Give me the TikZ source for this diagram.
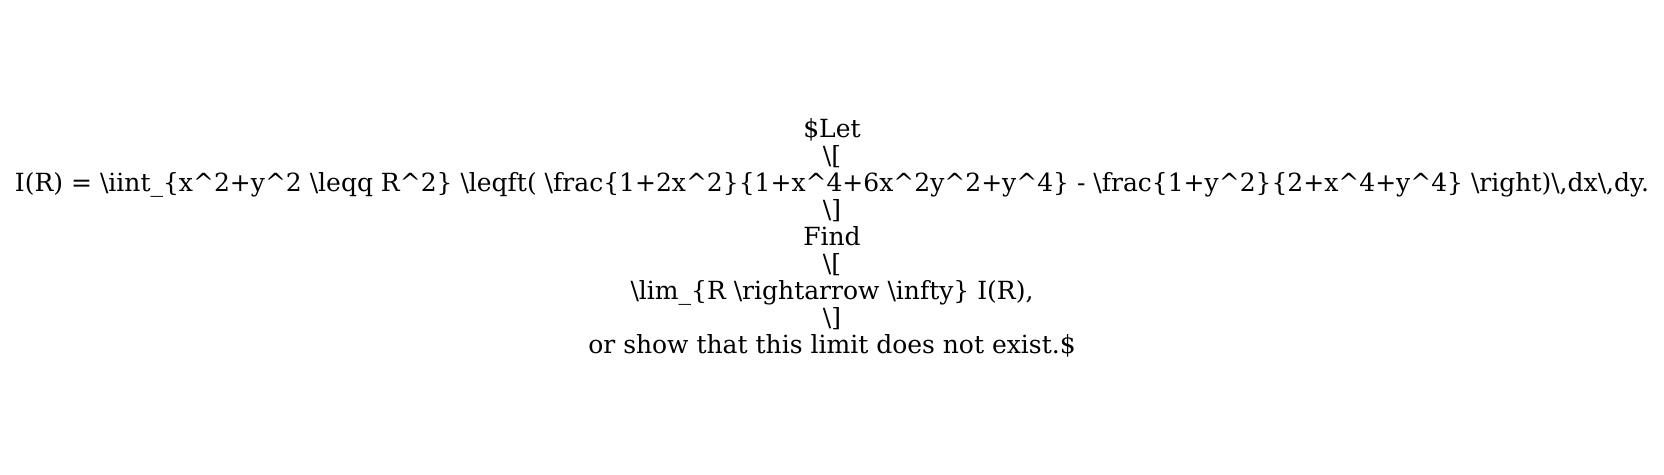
\documentclass[tikz,border=0pt]{standalone}
\usepackage{fontspec}
\setmainfont{DejaVu Serif}
\newcommand{\bs}{\textbackslash}
\newcommand{\crt}{\textasciicircum}
\begin{document}
\begin{tikzpicture}[x=1bp,y=1bp,
  txt/.style={align=center,inner sep=0pt,font=\fontsize{25bp}{27bp}\selectfont}]
\useasboundingbox (0,0) rectangle (1664,475);
\node[txt] (t) at (832,237.5) {\$Let\\
\bs[\\
I(R) = \bs iint\_\{x\crt 2+y\crt 2 \bs leqq R\crt 2\} \bs leqft( \bs frac\{1+2x\crt 2\}\{1+x\crt 4+6x\crt 2y\crt 2+y\crt 4\} - \bs frac\{1+y\crt 2\}\{2+x\crt 4+y\crt 4\} \bs right)\bs,dx\bs,dy.\\
\bs]\\
Find\\
\bs[\\
\bs lim\_\{R \bs rightarrow \bs infty\} I(R),\\
\bs]\\
or show that this limit does not exist.\$};
\end{tikzpicture}
\end{document}
